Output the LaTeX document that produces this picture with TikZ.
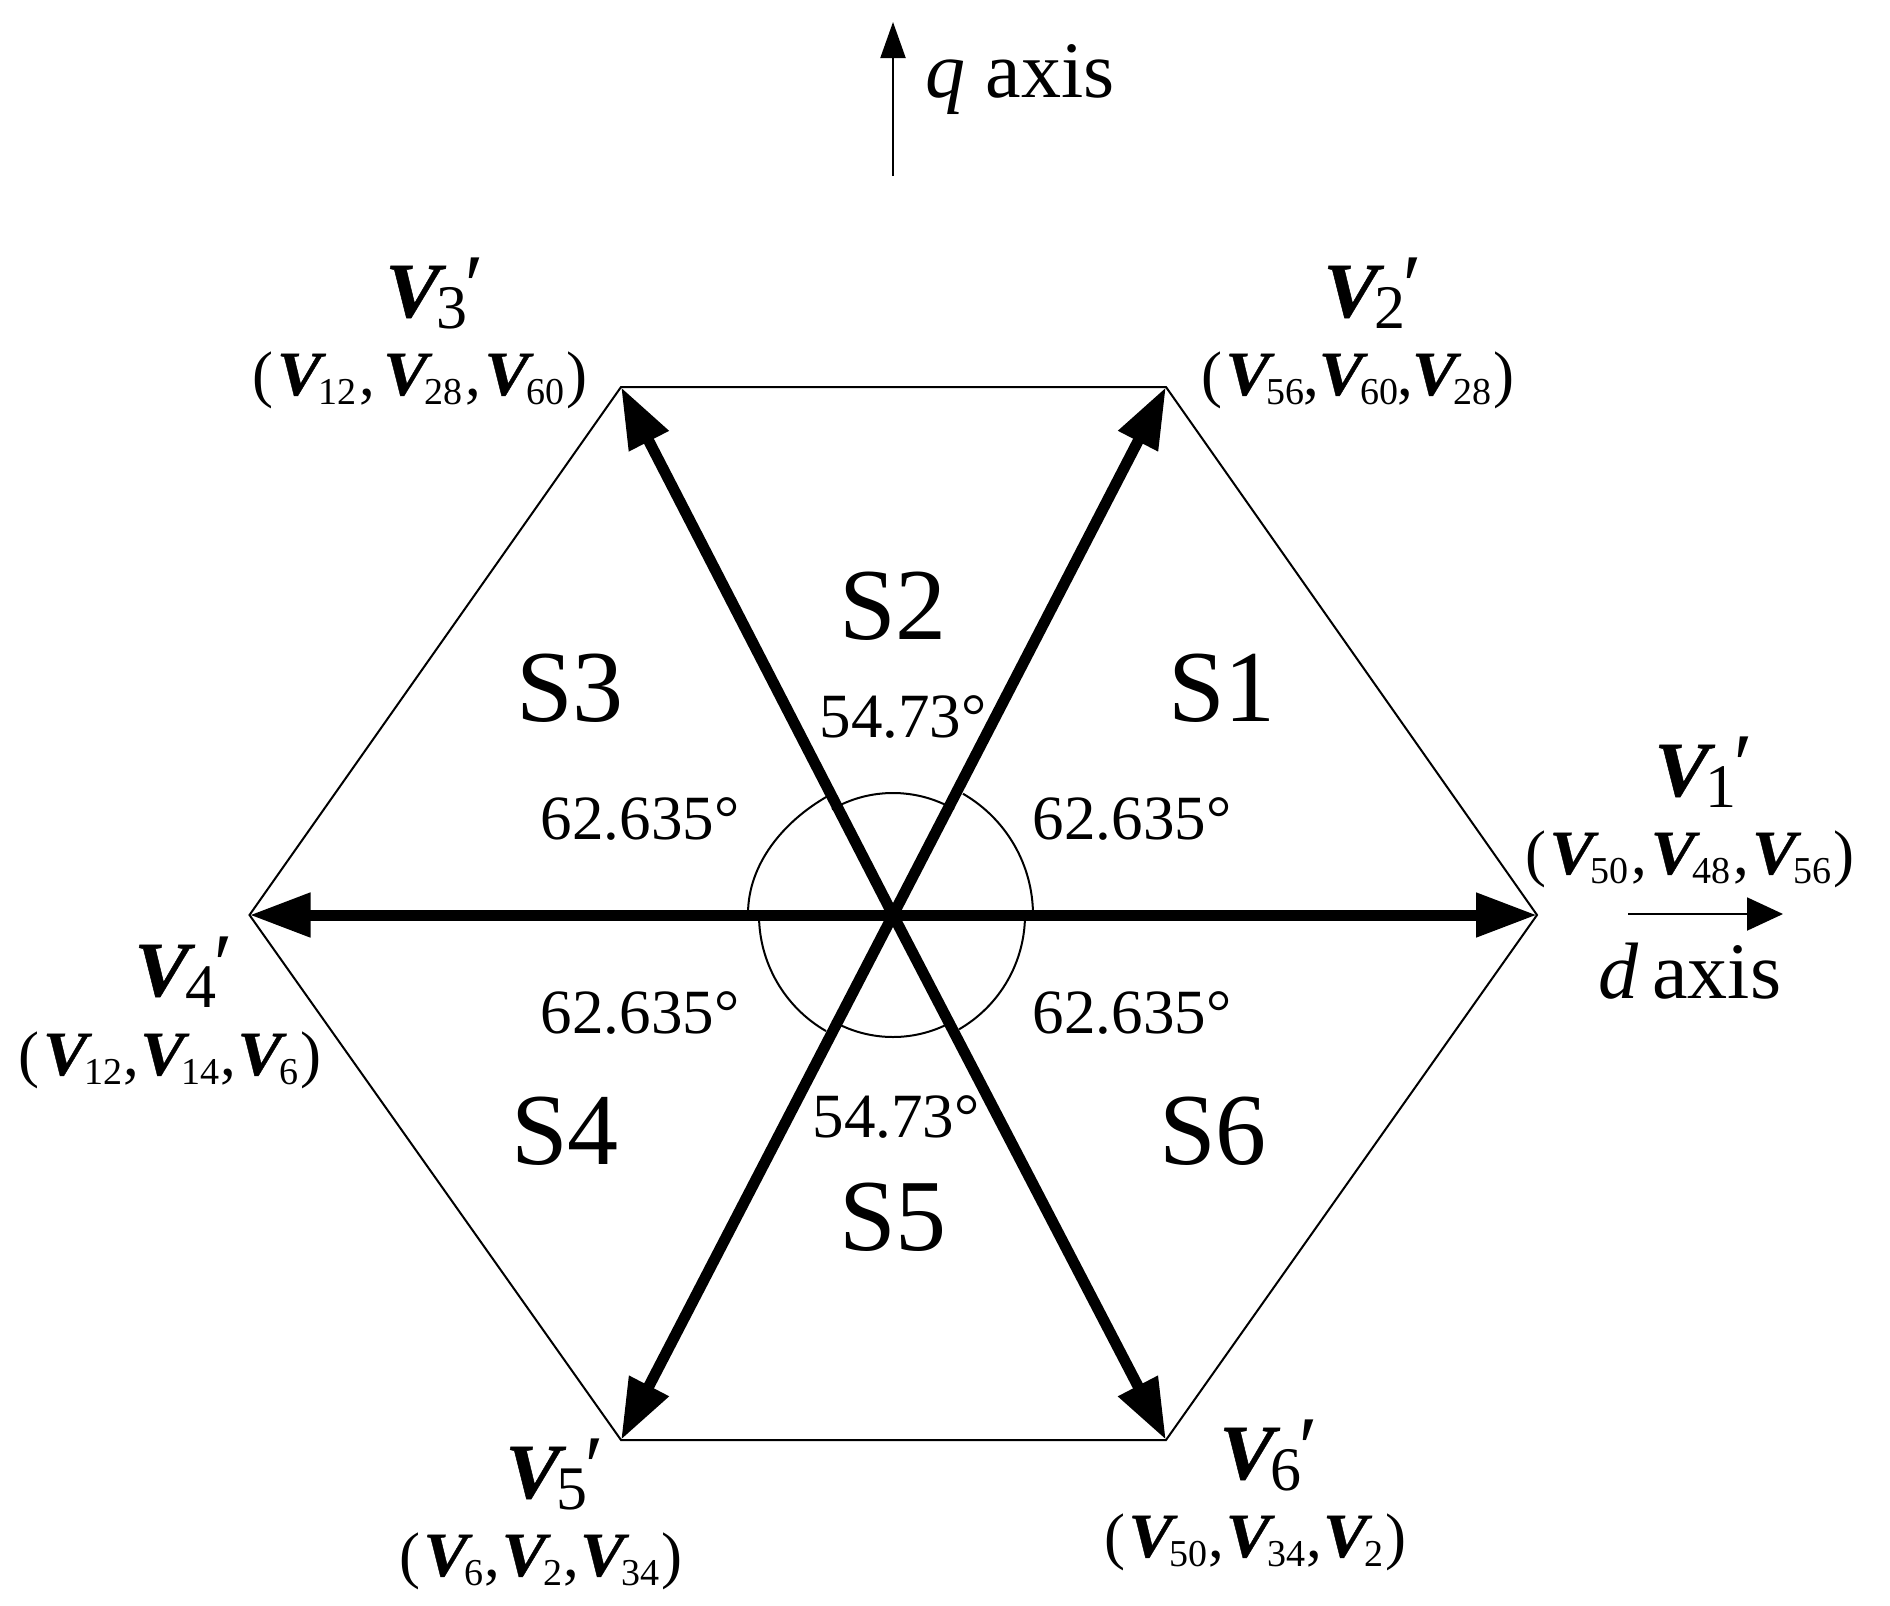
\documentclass[tikz,border=0pt]{standalone}
\usepackage{fontspec}
\setmainfont{Liberation Serif}
\newfontfamily\Vfam[FakeBold=0.6,FakeStretch=1.06]{Liberation Serif}
\usetikzlibrary{arrows.meta}
\newcommand{\tupV}[1]{{\fontsize{31.5}{36}\Vfam\bfseries\itshape V\kern-1.5pt}\raisebox{-4.5pt}{\fontsize{19}{22}\selectfont #1}}
\newcommand{\headV}[1]{{\fontsize{39}{44}\Vfam\bfseries\itshape V\kern-2pt}\raisebox{-5.5pt}{\fontsize{31}{36}\selectfont #1}\raisebox{1pt}{\fontsize{44}{48}\selectfont\itshape\kern-4pt ′}}
\newcommand{\cma}{\kern1.5pt{\fontsize{31.5}{36}\selectfont,}\kern1.5pt}
\newcommand{\cmn}{\kern0.5pt{\fontsize{31.5}{36}\selectfont,}\kern0.5pt}
\newcommand{\lpar}{{\fontsize{31.5}{36}\selectfont(}\kern1.5pt}
\newcommand{\rpar}{\kern1pt{\fontsize{31.5}{36}\selectfont)}}
\tikzset{
  thinline/.style={line width=1pt,black},
  thickarrow/.style={line width=5.5pt,black,-{Triangle[length=30.5pt,width=21pt]}},
  axisarrow/.style={line width=1pt,black,-{Triangle[length=18pt,width=16.5pt]}},
  qarrow/.style={line width=1pt,black,-{Triangle[length=18pt,width=12.5pt]}},
  lab/.style={inner sep=0pt,outer sep=0pt,anchor=base,align=center},
  sector/.style={lab,font=\fontsize{51}{58}\selectfont},
  angletext/.style={lab,font=\fontsize{31.5}{36}\selectfont},
  axislab/.style={lab,font=\fontsize{40}{46}\selectfont},
}
\begin{document}
\begin{tikzpicture}[x=0.5pt,y=-0.5pt]
\useasboundingbox (0,0) rectangle (1890,1606);
\fill[white] (0,0) rectangle (1890,1606);
\coordinate (O) at (893,915);
\coordinate (P1) at (1537,915);
\coordinate (P2) at (1166,387);
\coordinate (P3) at (621,387);
\coordinate (P4) at (249.5,915);
\coordinate (P5) at (621,1440);
\coordinate (P6) at (1166,1440);
\coordinate (qa) at (893,176);
\coordinate (qb) at (893,22);
\coordinate (da) at (1628,914);
\coordinate (db) at (1783,914);
% hexagon
\draw[thinline,line join=miter] (P1) -- (P2) -- (P3) -- (P4) -- (P5) -- (P6) -- cycle;
% angle arcs, one for each sector
\draw[thinline] (O) ++(0:70pt) arc [start angle=0,end angle=60,radius=70pt];
\draw[thinline] (O) ++(60:61pt) arc [start angle=60,end angle=120,radius=61pt];
\draw[thinline] (748,914) .. controls (748,864) and (783.4,821.7) .. (826.7,796.7);
\draw[thinline] (O) ++(180:67pt) arc [start angle=180,end angle=240,radius=67pt];
\draw[thinline] (O) ++(240:61pt) arc [start angle=240,end angle=300,radius=61pt];
\draw[thinline] (O) ++(300:66pt) arc [start angle=300,end angle=360,radius=66pt];
% vectors
\foreach \p in {P1,P2,P3,P4,P5,P6} \draw[thickarrow] (O) -- (\p);
% axes
\draw[qarrow] (qa) -- (qb);
\draw[axisarrow] (da) -- (db);
\node[axislab] (qlab) at (1020,97) {\textit{q} axis};
\node[axislab] (dlab) at (1690,998) {\textit{d}\,axis};
% sectors
\node[sector] (s1) at (1222,721) {S1};
\node[sector] (s2) at (893,639) {S2};
\node[sector] (s3) at (570,721) {S3};
\node[sector] (s4) at (565,1164) {S4};
\node[sector] (s5) at (893,1250) {S5};
\node[sector] (s6) at (1213,1164) {S6};
% angles
\node[angletext] (a1) at (903,737) {54.73°};
\node[angletext] (a2) at (896,1137) {54.73°};
\node[angletext] (a3) at (1132,839) {62.635°};
\node[angletext] (a4) at (640,839) {62.635°};
\node[angletext] (a5) at (640,1033) {62.635°};
\node[angletext] (a6) at (1132,1033) {62.635°};
% vector labels
\node[lab] (h1) at (1701,796) {\headV{1}};
\node[lab] (t1) at (1690,874) {\lpar\tupV{50}\cma\tupV{48}\cma\tupV{56}\rpar};
\node[lab] (h2) at (1370,317) {\headV{2}};
\node[lab] (t2) at (1358,395) {\lpar\tupV{56}\kern-1pt\cmn\kern-1pt\tupV{60}\kern-1pt\cmn\kern-1pt\tupV{28}\rpar};
\node[lab] (h3) at (432,317) {\headV{3}};
\node[lab] (t3) at (420,395) {\lpar\tupV{12}\cma\ \tupV{28}\cma\tupV{60}\rpar};
\node[lab] (h4) at (181,996) {\headV{4}};
\node[lab] (t4) at (170,1075) {\lpar\tupV{12}\cmn\tupV{14}\cmn\tupV{6}\rpar};
\node[lab] (h5) at (552,1498) {\headV{5}};
\node[lab] (t5) at (541,1576) {\lpar\tupV{6}\cmn\tupV{2}\cmn\tupV{34}\rpar};
\node[lab] (h6) at (1266,1479) {\headV{6}};
\node[lab] (t6) at (1255.5,1557) {\lpar\tupV{50}\cmn\tupV{34}\cmn\tupV{2}\rpar};
\end{tikzpicture}
\end{document}
